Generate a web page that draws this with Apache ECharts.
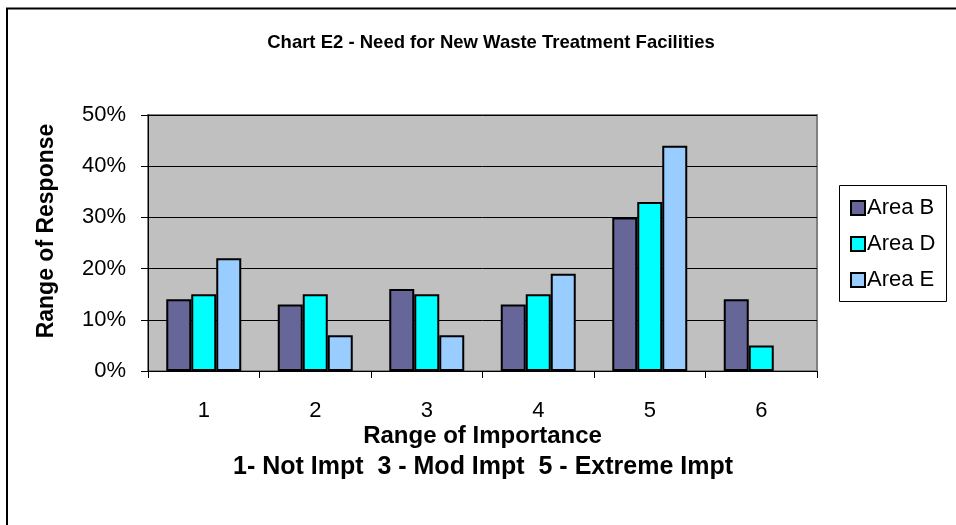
<!DOCTYPE html>
<html><head><meta charset="utf-8">
<script src="https://cdn.jsdelivr.net/npm/echarts@6/dist/echarts.min.js"></script>
<style>html,body{margin:0;padding:0;background:#fff}#c{width:956px;height:525px}</style>
</head><body><div id="c"></div>
<script>
const categories = ['1','2','3','4','5','6'];
const areaB = [14, 13, 16, 13, 30, 14];
const areaD = [15, 15, 15, 15, 33, 5];
const areaE = [22, 7, 7, 19, 44, null];
const seriesNames = ['Area B','Area D','Area E'];
const titleText = 'Chart E2 - Need for New Waste Treatment Facilities';
const xName = 'Range of Importance';
const xSub = '1- Not Impt  3 - Mod Impt  5 - Extreme Impt';
const yName = 'Range of Response';

const font = 'Arial, "Liberation Sans", sans-serif';
const chart = echarts.init(document.getElementById('c'), null, {renderer:'canvas'});
const colors = ['#666699','#00FFFF','#99CCFF'];
const mk = (name, data, i) => ({
  name, type:'bar', data, barWidth:25, barGap:'0%',
  itemStyle:{color:colors[i], borderColor:'#000', borderWidth:2},
  emphasis:{disabled:true}, animation:false
});
chart.setOption({
  animation:false,
  textStyle:{fontFamily:font},
  grid:{left:148, right:139, top:115, bottom:154, show:true, backgroundColor:'#C0C0C0', borderColor:'#808080', borderWidth:2, containLabel:false},
  graphic:[
    {type:'rect', shape:{x:7, y:8.5, width:1000, height:600}, style:{fill:'none', stroke:'#000', lineWidth:2}, z:-1},
    {type:'rect', shape:{x:839.5, y:185.5, width:107, height:116}, style:{fill:'#fff', stroke:'#000', lineWidth:1}, z:0},
    {type:'text', style:{text:titleText, x:491, y:43, textAlign:'center', textVerticalAlign:'middle', font:'bold 18.5px '+font, fill:'#000'}},
    {type:'text', style:{text:xSub, x:483, y:467, textAlign:'center', textVerticalAlign:'middle', font:'bold 25px '+font, fill:'#000'}},
    {type:'text', x:47, y:231, rotation:Math.PI/2, style:{text:yName, x:0, y:0, textAlign:'center', textVerticalAlign:'middle', font:'bold 23px '+font, fill:'#000'}}
  ],
  legend:{
    orient:'vertical', left:845, top:192, itemWidth:14, itemHeight:14, itemGap:14,
    icon:'rect', data:seriesNames,
    textStyle:{fontSize:22, color:'#000', fontFamily:font, padding:[0,0,0,-3]},
    itemStyle:{borderColor:'#000', borderWidth:2}, selectedMode:false, z:5
  },
  xAxis:{
    type:'category', data:categories,
    axisLine:{lineStyle:{color:'#000', width:1}},
    axisTick:{show:true, inside:false, length:7, alignWithLabel:false, lineStyle:{color:'#000'}},
    axisLabel:{fontSize:22, color:'#000', margin:29, fontFamily:font},
    name:xName, nameLocation:'middle', nameGap:53,
    nameTextStyle:{fontSize:24, fontWeight:'bold', color:'#000', fontFamily:font, verticalAlign:'top'}
  },
  yAxis:{
    type:'value', min:0, max:50, interval:10,
    axisLine:{show:true, lineStyle:{color:'#000', width:1}},
    axisTick:{show:true, inside:false, length:7, lineStyle:{color:'#000'}},
    axisLabel:{fontSize:22, color:'#000', margin:22, formatter:'{value}%', fontFamily:font},
    splitLine:{show:true, lineStyle:{color:'#000', width:1}}
  },
  series:[mk(seriesNames[0], areaB, 0), mk(seriesNames[1], areaD, 1), mk(seriesNames[2], areaE, 2)]
});
</script></body></html>
